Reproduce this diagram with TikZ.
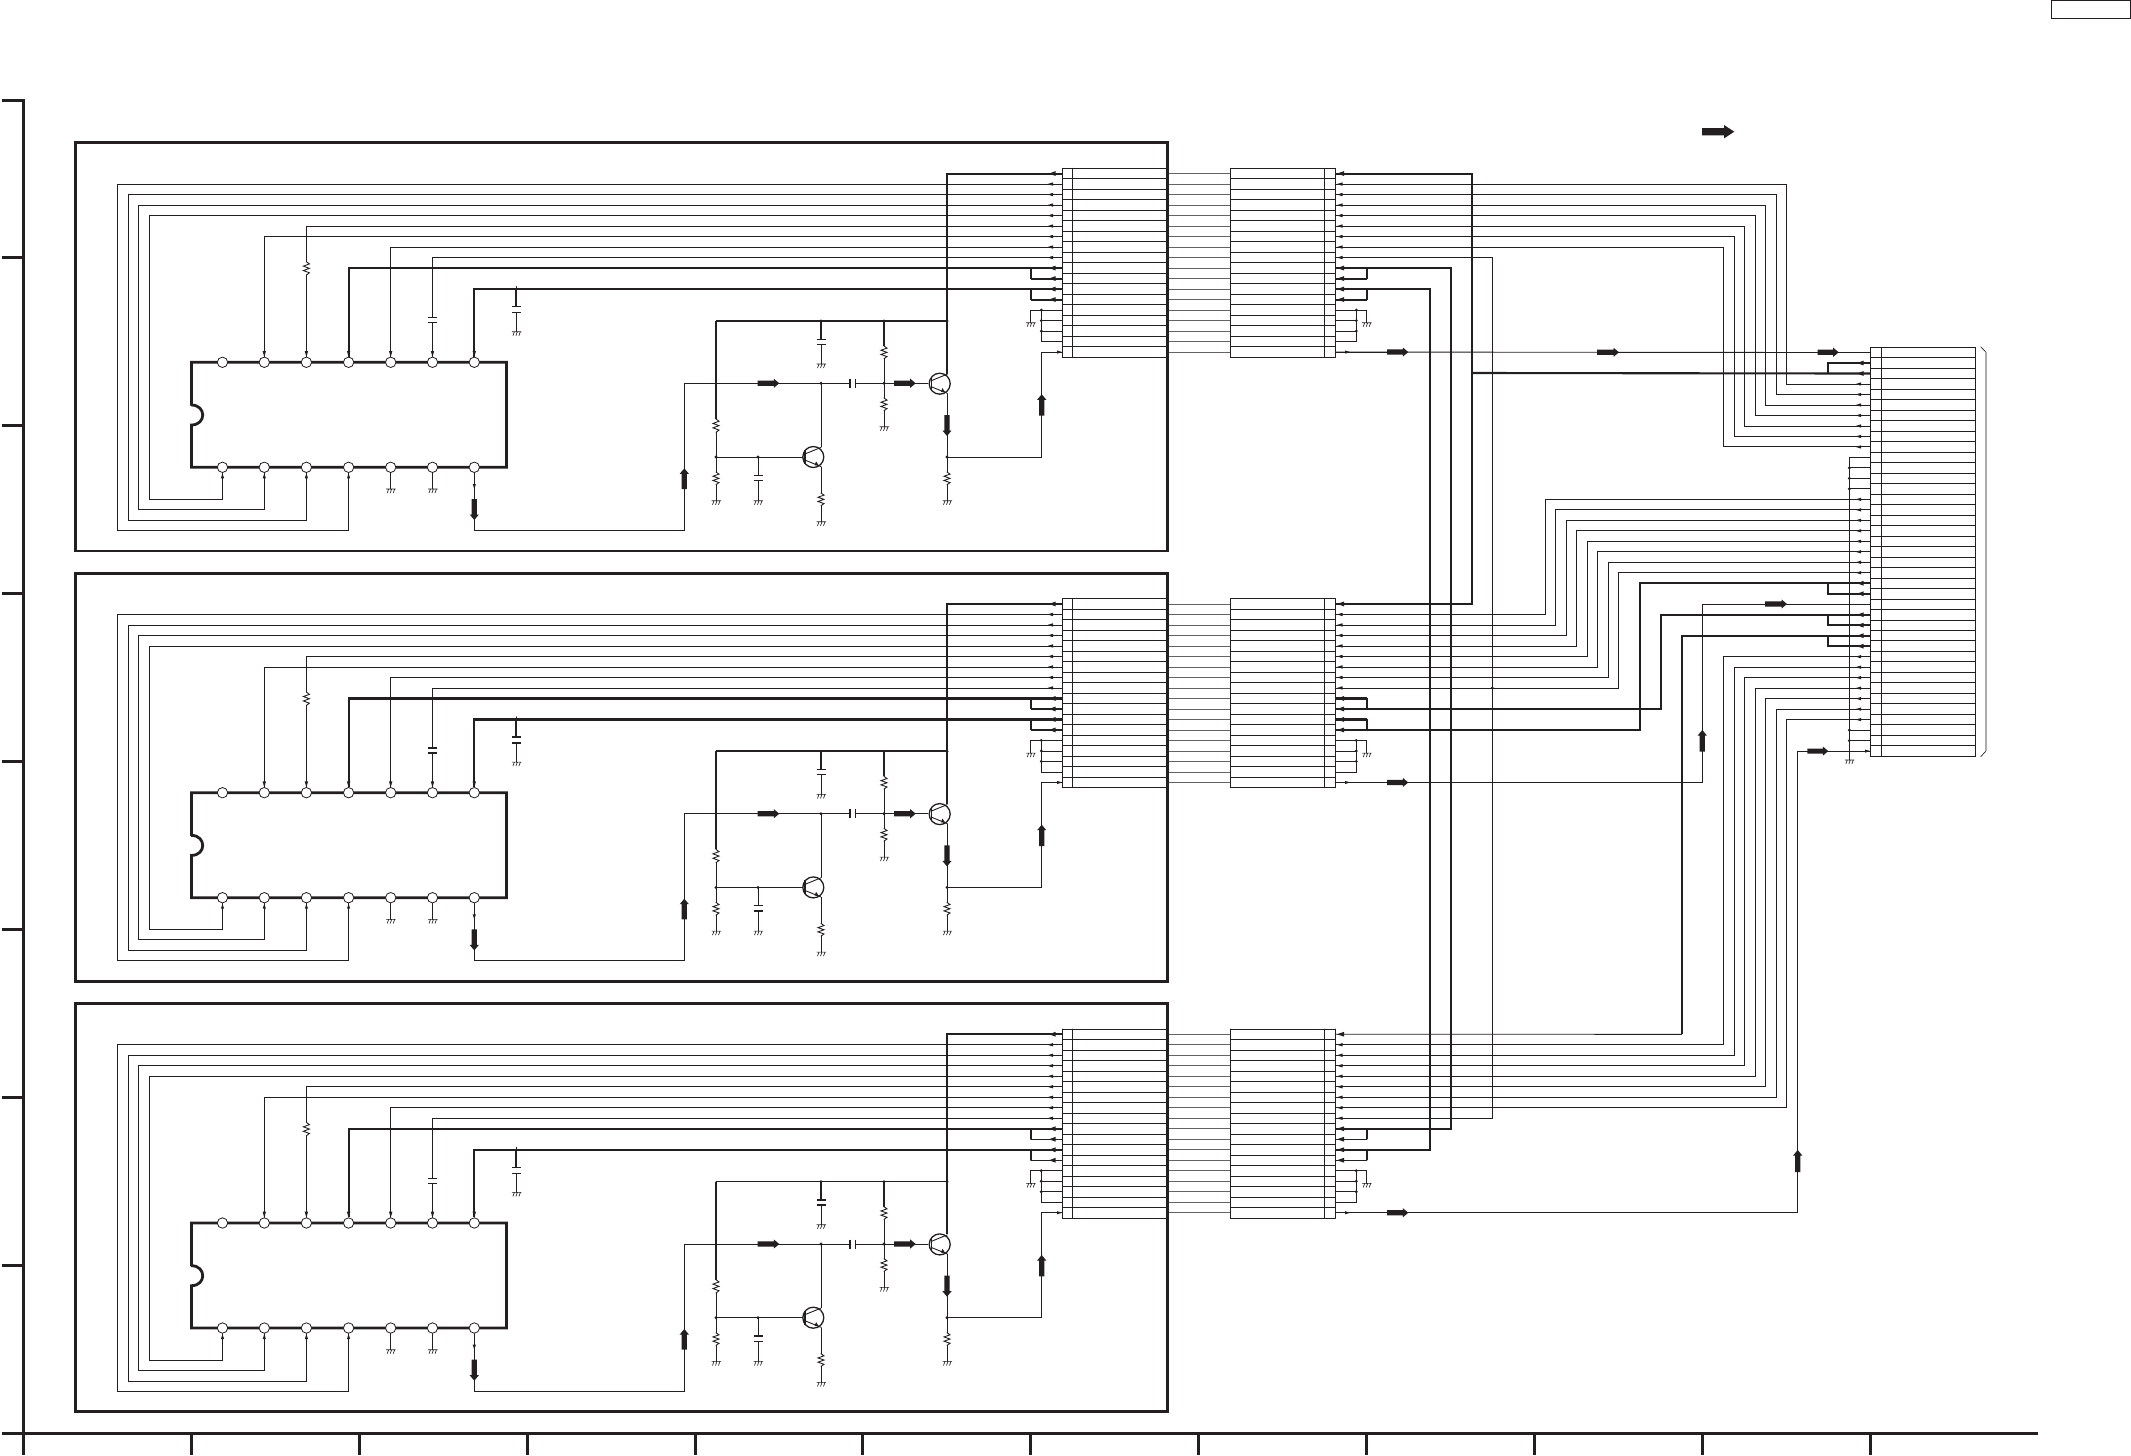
\documentclass[tikz,border=0pt]{standalone}
\usetikzlibrary{calc}
\definecolor{ink}{HTML}{231F20}
\tikzset{
 wire/.style={draw=ink,line width=.45pt,line cap=round,line join=miter},
 bold/.style={draw=ink,line width=1.05pt,line join=miter},
 boxline/.style={draw=ink,line width=1.4pt,line join=miter},
 axisline/.style={draw=ink,line width=1.5pt},
 plate/.style={draw=ink,line width=.7pt},
 midwire/.style={draw=ink!70,line width=.45pt},
 pinnode/.style={circle,draw=ink,line width=.4pt,fill=white,inner sep=0pt,minimum size=5.2pt},
 gndline/.style={draw=ink,line width=.33pt}
}
% small filled head: tip at (x,y), length dx (sign = side of the tail), half width
\newcommand\hd[4]{\fill[ink] (#1,#2) -- ({#1+#3},{#2-#4}) -- ({#1+#3},{#2+#4}) -- cycle;}
\newcommand\hv[4]{\fill[ink] (#1,#2) -- ({#1-#4},{#2+#3}) -- ({#1+#4},{#2+#3}) -- cycle;}
% big signal arrows
\newcommand\barR[3]{\fill[ink] (#1,{#3-2.6}) -- ({#2-5.5},{#3-2.6}) -- ({#2-5.5},{#3-4.6}) -- (#2,#3) -- ({#2-5.5},{#3+4.6}) -- ({#2-5.5},{#3+2.6}) -- (#1,{#3+2.6}) -- cycle;}
\newcommand\barU[3]{\fill[ink] ({#1-2.6},#2) -- ({#1-2.6},{#3+5.5}) -- ({#1-4.6},{#3+5.5}) -- (#1,#3) -- ({#1+4.6},{#3+5.5}) -- ({#1+2.6},{#3+5.5}) -- ({#1+2.6},#2) -- cycle;}
\newcommand\barD[3]{\fill[ink] ({#1-2.6},#2) -- ({#1-2.6},{#3-5.5}) -- ({#1-4.6},{#3-5.5}) -- (#1,#3) -- ({#1+4.6},{#3-5.5}) -- ({#1+2.6},{#3-5.5}) -- ({#1+2.6},#2) -- cycle;}
\newcommand\dotn[2]{\fill[ink] (#1,#2) circle[radius=1.6];}
\newcommand\gnd[2]{\draw[gndline] ({#1-4.5},#2) -- ({#1+5},#2)
  ({#1-2},#2) -- ({#1-3.5},{#2+4}) ({#1+1},#2) -- ({#1-.5},{#2+4}) ({#1+4},#2) -- ({#1+2.5},{#2+4});}
\newcommand\res[3]{\pgfmathsetmacro\hh{(#3-#2)/6}
  \draw[wire] (#1,#2) -- ({#1+3},{#2+\hh}) -- ({#1-3},{#2+2*\hh}) -- ({#1+3},{#2+3*\hh}) -- ({#1-3},{#2+4*\hh}) -- ({#1+3},{#2+5*\hh}) -- (#1,#3);}
\newcommand\capv[3]{\draw[plate] ({#1-4.5},#2) -- ({#1+4.5},#2) ({#1-4.5},#3) -- ({#1+4.5},#3);}
\newcommand\caph[3]{\draw[plate] (#1,{#3-4.5}) -- (#1,{#3+4.5}) (#2,{#3-4.5}) -- (#2,{#3+4.5});}
\newcommand\trans[2]{\draw[ink,line width=.65pt] (#1,#2) circle[radius=10.5];
  \draw[plate] ({#1-8.5},{#2-7}) -- ({#1-8.5},{#2+7});
  \draw[wire] ({#1-8.5},{#2-3}) -- ({#1+7.5},{#2-9.5}) ({#1-8.5},{#2+3}) -- ({#1+7.5},{#2+9.5});
  \fill[ink] ({#1+5.5},{#2+8.6}) -- ({#1+1.2},{#2+8.2}) -- ({#1+2.8},{#2+4.4}) -- cycle;}
% route: from a, horizontally to x, vertically to b's level, horizontally to b
\newcommand\rt[4][wire]{\coordinate (tx) at (#3,0); \draw[#1] (#2) -- (#2 -| tx) -- (#4 -| tx) -- (#4);}
\begin{document}
\begin{tikzpicture}[x=0.5pt,y=-0.5pt]
\useasboundingbox (0,0) rectangle (2131,1456);
% axes and ticks
\draw[axisline] (1.5,100) -- (23.3,100) -- (23.3,1455);
\draw[axisline] (1.5,1433.3) -- (2038,1433.3);
\foreach \ty in {257.3,425.3,593.3,761.3,929.3,1097.3,1265.3} \draw[axisline] (1.5,\ty) -- (23.3,\ty);
\foreach \tx in {191.3,359.3,527.3,695.3,862.3,1030.3,1198.3,1366.3,1534.3,1702.3,1870.3} \draw[axisline] (\tx,1433.3) -- (\tx,1455);
% title box and legend arrow
\node[draw=ink,line width=.55pt,inner sep=0pt,minimum width=39.7pt,minimum height=9pt] (titlebox) at (2091,9.3) {};
\fill[ink] (1702,128) -- (1724,128) -- (1724,125) -- (1734.3,131.7) -- (1724,138.4) -- (1724,135.4) -- (1702,135.4) -- cycle;

% big connector
\foreach \k in {0,...,39}{\pgfmathsetmacro\by{347.3+10.487*\k}\draw[wire] (1870.3,\by) -- (1975.3,\by);}
\draw[wire] (1870.3,347.3) -- (1870.3,756.3) (1881.3,347.3) -- (1881.3,756.3) (1975.3,347.3) -- (1975.3,756.3);
\foreach \j in {0,...,38}{\pgfmathsetmacro\by{347.3+10.487*(\j+.5)}\coordinate (B-\j) at (1870.3,\by);}
\draw[gray!65,line width=1pt] (1985.7,351.7) -- (1985.7,751.3);
\draw[gndline] (1980.7,346.7) -- (1985.7,352) (1980.7,756.7) -- (1985.7,751.3);

% the three identical boards
\foreach \fr/\off in {1/0,2/430.4,3/860.7}{
\ifnum\fr=3 \tikzset{jw/.style={wire},busw/.style={wire}}\else\tikzset{jw/.style={bold},busw/.style={bold}}\fi
\begin{scope}[shift={(0,\off)}]
 \draw[boxline] (75.4,142.7) rectangle (1167.7,551);
 % connector pair
 \foreach \k in {0,...,18}{\pgfmathsetmacro\ky{168.3+10.5*\k}
   \draw[wire] (1062.3,\ky) -- (1166,\ky) (1230.3,\ky) -- (1335.3,\ky);}
 \draw[wire] (1062.3,168.3) -- (1062.3,357.3) (1072.3,168.3) -- (1072.3,357.3)
             (1230.3,168.3) -- (1230.3,357.3) (1324.3,168.3) -- (1324.3,357.3) (1335.3,168.3) -- (1335.3,357.3);
 \foreach \rw in {0,...,17}{\pgfmathsetmacro\ry{173.55+10.5*\rw}
   \coordinate (L\fr-\rw) at (1062.3,\ry);
   \coordinate (R\fr-\rw) at (1335.3,\ry);
   \draw[midwire] (1169,\ry) -- (1230.3,\ry);}
 % IC
 \draw[boxline,line cap=round] (191.4,405) -- (191.4,362.3) -- (506.4,362.3) -- (506.4,467.3) -- (191.4,467.3) -- (191.4,425)
    .. controls (206.5,425) and (206.5,405) .. (191.4,405);
 \foreach \pk/\px in {1/222.5,2/264.3,3/306.4,4/348.6,5/390.7,6/432.5,7/474.3}{
   \node[pinnode] (Pt\fr-\pk) at (\px,362.3) {};
   \node[pinnode] (Pb\fr-\pk) at (\px,467.3) {};}
 % left wiring
 \draw[bold] (L\fr-0) -- (947,173.55) -- (947,373.7);
 \draw[wire] (L\fr-1) -| (117.5,530.3) -| (Pb\fr-4);
 \draw[wire] (L\fr-2) -| (128.2,520.3) -| (Pb\fr-3);
 \draw[wire] (L\fr-3) -| (138.2,509.3) -| (Pb\fr-2);
 \draw[wire] (L\fr-4) -| (149.3,499.3) -| (Pb\fr-1);
 \draw[wire] (L\fr-5) -| (306.4,261.7); \res{306.4}{261.7}{275}; \draw[wire] (306.4,275) -- (Pt\fr-3);
 \draw[wire] (L\fr-6) -| (Pt\fr-2);
 \draw[wire] (L\fr-7) -| (Pt\fr-5);
 \draw[wire] (L\fr-8) -| (432.5,317.7); \capv{432.5}{317.7}{322.7}; \draw[wire] (432.5,322.7) -- (Pt\fr-6);
 \draw[bold] (L\fr-9) -| (Pt\fr-4);
 \draw[bold] (L\fr-11) -| (Pt\fr-7);
 \draw[jw] (L\fr-10) -- (1030.7,278.55);
 \draw[jw] (L\fr-12) -- (1030.7,299.55);
 \draw[bold] (1030.7,268.05) -- (1030.7,278.55) (1030.7,289.05) -- (1030.7,299.55);
 % board grounds
 \draw[bold] (516.4,289) -- (516.4,306.7); \capv{516.4}{306.7}{312.7}; \draw[wire] (516.4,312.7) -- (516.4,331.7) (516.4,289) -- (516.4,286.5); \gnd{516.4}{331.7}
 \draw[wire] (Pb\fr-5) -- (390.7,489); \gnd{390.7}{489}
 \draw[wire] (Pb\fr-6) -- (432.5,489); \gnd{432.5}{489}
 % output of the IC to the transistor stage
 \draw[wire] (Pb\fr-7) -- (474.3,530.3) -- (684.3,530.3) -- (684.3,383.3) -- (850,383.3);
 \barD{474.3}{499}{520}
 \hv{474.3}{489}{-5}{1.6}
 \barU{684.3}{489}{468.3}
 \barR{757.7}{779.3}{383.3}
 \dotn{821}{383.3}
 \caph{850}{855.3}{383.3}
 \draw[wire] (855.3,383.3) -- (928,383.3);
 \dotn{884}{383.3}
 \barR{894}{915.7}{383.3}
 \draw[wire] (821,383.3) -- (821,447) (821,467) -- (821,493);
 \res{821}{493}{505.7}
 \draw[wire] (821,505.7) -- (821,521.7); \gnd{821}{521.7}
 \trans{813.3}{457}
 \trans{939.7}{383.7}
 % supply bus
 \draw[busw] (716,321) -- (947,321);
 \draw[bold] (716,321) -- (716,419);
 \res{716}{419}{432.3}
 \draw[wire] (716,432.3) -- (716,472) (716,457) -- (802.7,457);
 \dotn{716}{457} \dotn{758}{457}
 \res{716}{472}{484.7}
 \draw[wire] (716,484.7) -- (716,500.7); \gnd{716}{500.7}
 \draw[wire] (758,457) -- (758,475.3); \capv{758}{475.3}{480.7}; \draw[wire] (758,480.7) -- (758,500.7); \gnd{758}{500.7}
 \draw[bold] (821,321) -- (821,339.3); \capv{821}{339.3}{344.3}; \draw[wire] (821,344.3) -- (821,364); \gnd{821}{364}
 \draw[bold] (884,321) -- (884,346); \res{884}{346}{358.7};
 \draw[wire] (884,358.7) -- (884,398); \res{884}{398}{410.7}; \draw[wire] (884,410.7) -- (884,426.7); \gnd{884}{426.7}
 \dotn{821}{321} \dotn{884}{321} \dotn{947}{321}
 % emitter follower to the connector
 \draw[wire] (947,393.7) -- (947,472);
 \barD{947}{415}{436}
 \dotn{947}{457}
 \res{947}{472}{484.7}
 \draw[wire] (947,484.7) -- (947,500.7); \gnd{947}{500.7}
 \draw[wire] (947,457) -- (1041.7,457) |- (L\fr-17);
 \barU{1041.7}{415.7}{394.3}
 % connector grounds, left
 \draw[wire] (L\fr-13) -- (1030.7,310.05) -- (1030.7,322.7); \gnd{1030.7}{322.7}
 \draw[wire] (L\fr-14) -- (1041.3,320.55) (L\fr-15) -- (1041.3,331.05) (L\fr-16) -- (1041.3,341.55) -- (1041.3,310.05);
 \dotn{1041.3}{310.05} \dotn{1041.3}{320.55} \dotn{1041.3}{331.05}
 % connector grounds, right
 \draw[wire] (R\fr-13) -- (1366.7,310.05) -- (1366.7,322.7); \gnd{1366.7}{322.7}
 \draw[wire] (R\fr-14) -- (1356.3,320.55) (R\fr-15) -- (1356.3,331.05) (R\fr-16) -- (1356.3,341.55) -- (1356.3,310.05);
 \dotn{1356.3}{310.05} \dotn{1356.3}{320.55} \dotn{1356.3}{331.05}
 % IC pin arrowheads
 \foreach \ax in {264.3,306.4,348.6,390.7,432.5,474.3}{\hv{\ax}{357}{-6}{1.7}}
 \foreach \ax in {222.5,264.3,306.4,348.6}{\hv{\ax}{473.3}{5}{1.6}}
 % connector arrowheads
 \foreach \rw in {1,...,8}{\pgfmathsetmacro\ry{173.55+10.5*\rw}\hd{1047.5}{\ry}{5.5}{1.7}\hd{1337}{\ry}{5.5}{1.7}}
 \foreach \rw in {0,9,10,11,12}{\pgfmathsetmacro\ry{173.55+10.5*\rw}\hd{1049}{\ry}{6.5}{2.4}\hd{1337}{\ry}{7}{2.4}}
 \hd{1062}{352.05}{-5}{1.6}
 \hd{1350}{352.05}{-5}{1.6}
 \draw[wire] (R\fr-17) -- (1387,352.05);
 \barR{1387}{1408.3}{352.05}
 % right jumpers
 \draw[bold] (1367,268.05) -- (1367,278.55) (1367,289.05) -- (1367,299.55);
\end{scope}}

% right jumper stubs: which row goes on and which one stays local
\draw[bold] (R1-10) -- (R1-10 -| 1367,0);
\draw[bold] (R1-12) -- (R1-12 -| 1367,0);
\draw[bold] (R2-9) -- (R2-9 -| 1367,0);
\draw[bold] (R2-11) -- (R2-11 -| 1367,0);
\draw[wire] (R3-10) -- (R3-10 -| 1367,0);
\draw[wire] (R3-12) -- (R3-12 -| 1367,0);

% cross wiring: board 1
\rt[bold]{R1-0}{1472}{R2-0}
\coordinate (v1472) at (1472,373);
\draw[bold] (v1472) -- (B-2);
\rt{R1-1}{1786.3}{B-3}
\rt{R1-2}{1776.3}{B-4}
\rt{R1-3}{1765.3}{B-5}
\rt{R1-4}{1755.3}{B-6}
\rt{R1-5}{1744.3}{B-7}
\rt{R1-6}{1734.3}{B-8}
\rt{R1-7}{1723.3}{B-9}
\rt{R1-8}{1492.3}{R3-8}
\rt[bold]{R1-9}{1451}{R3-9}
\rt[bold]{R1-11}{1430}{R3-11}
\draw[wire] (R1-17) -- (B-0);
\barR{1597}{1619}{352.3}
\barR{1817.7}{1838.7}{352.3}
% board 2
\rt{R2-1}{1545.7}{B-14}
\rt{R2-2}{1555.7}{B-15}
\rt{R2-3}{1566.7}{B-16}
\rt{R2-4}{1576.7}{B-17}
\rt{R2-5}{1587.7}{B-18}
\rt{R2-6}{1597.7}{B-19}
\rt{R2-7}{1608.7}{B-20}
\rt{R2-8}{1618.7}{B-21}
\dotn{1492.3}{688}
\rt[bold]{R2-10}{1661}{B-25}
\rt[bold]{R2-12}{1640}{B-22}
\rt{R2-17}{1702.3}{B-24}
\barU{1702.3}{751.7}{730}
\barR{1765}{1787}{604}
% board 3
\coordinate (v1681) at (1681.7,1034.3);
\draw[wire] (R3-0) -- (v1681);
\draw[bold] (v1681) |- (B-27);
\rt{R3-1}{1723.3}{B-29}
\rt{R3-2}{1734.3}{B-30}
\rt{R3-3}{1744.3}{B-31}
\rt{R3-4}{1755.3}{B-32}
\rt{R3-5}{1765.3}{B-33}
\rt{R3-6}{1776.3}{B-34}
\rt{R3-7}{1786.3}{B-35}
\rt{R3-17}{1797.7}{B-38}
\barU{1797.7}{1172}{1150}
\barR{1807.3}{1828.3}{751.1}
% big connector jumpers, grounds and heads
\foreach \jj/\jk in {1/2,23/22,26/25,28/27}{
  \draw[bold] (B-\jj) -- (B-\jj -| 1828.3,0) -- (B-\jk -| 1828.3,0);}
\coordinate (gb) at (1849.3,760);
\draw[wire] (B-10 -| gb) -- (gb); \gnd{1849.3}{760}
\foreach \gj in {10,11,12,13,36,37}{\draw[wire] (B-\gj -| gb) -- (B-\gj);}
\foreach \gj in {11,12,13,36,37}{\fill[ink] (B-\gj -| gb) circle[radius=1.6];}
\foreach \hj in {3,...,9,14,15,...,21,29,30,...,35}{\pgfmathsetmacro\by{347.3+10.487*(\hj+.5)}\hd{1855.7}{\by}{5.5}{1.7}}
\foreach \hj in {1,2,22,23,25,26,27,28}{\pgfmathsetmacro\by{347.3+10.487*(\hj+.5)}\hd{1857}{\by}{6.5}{2.4}}
\hd{1870}{751.05}{-5}{1.6}
\end{tikzpicture}
\end{document}
